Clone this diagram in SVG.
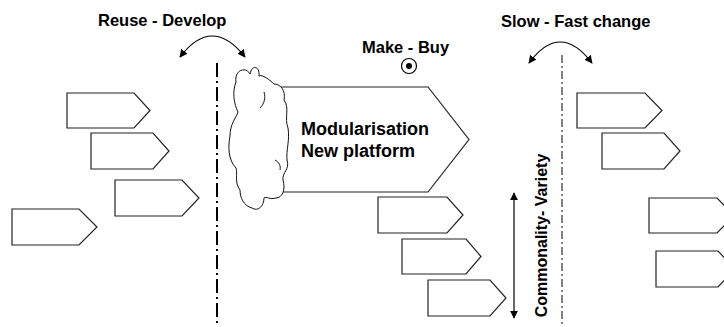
<svg xmlns="http://www.w3.org/2000/svg" width="724" height="327" viewBox="0 0 724 327">
<style>
.lbl{font-family:"Liberation Sans",Arial,sans-serif;font-weight:bold;fill:#000}
.pent{fill:#fff;stroke:#222;stroke-width:1.2}
.conn{fill:none;stroke:#000;stroke-width:1.2}
</style>
<defs>
<marker id="ah" viewBox="0 0 10 10" refX="9" refY="5" markerWidth="8" markerHeight="8" markerUnits="userSpaceOnUse" orient="auto-start-reverse">
<path d="M0,0 L10,5 L0,10 Z" fill="#000"/>
</marker>
</defs>
<rect width="724" height="327" fill="#fff"/>

<!-- dash-dot divider lines -->
<line x1="217" y1="63" x2="217" y2="327" stroke="#000" stroke-width="2" stroke-dasharray="14 4 2 4"/>
<line x1="562" y1="55" x2="562" y2="327" stroke="#000" stroke-width="1" stroke-dasharray="8 3 2 3"/>

<!-- left pentagons -->
<g id="left-1"><polygon class="pent" points="67,93 134,93 150,110.5 134,128 67,128"/></g>
<g id="left-2"><polygon class="pent" points="91,133 153,133 169,151 153,169 91,169"/></g>
<g id="left-3"><polygon class="pent" points="115,180 182,180 199,198 182,216 115,216"/></g>
<g id="left-4"><polygon class="pent" points="12,209 79,209 97,227 79,245 12,245"/></g>

<!-- big pentagon with cloud -->
<g id="modularisation">
<polygon class="pent" points="270,87 428,87 469,139.5 428,192 270,192"/>
<path fill="#fff" stroke="#111" stroke-width="1" d="M236,82 C234,70 246,66 250,74 C252,64 260,66 259,76 C262,74 270,80 274,84 C280,84 286,90 284,100 C290,108 284,118 288,128 C290,140 286,150 287,160 C290,170 282,172 283,180 C286,190 282,198 276,198 C270,200 266,196 264,198 C264,206 258,212 252,208 C244,206 240,198 240,190 C234,182 238,174 236,168 C228,160 228,146 230,136 C230,124 236,118 238,112 C234,104 232,92 236,82 Z"/>
<path fill="none" stroke="#111" stroke-width="1" d="M264,92 C266,98 264,104 260,108"/>
<path fill="none" stroke="#111" stroke-width="1" d="M275,160 C279,162 281,166 280,170"/>
<text class="lbl" font-size="18" x="301" y="135">Modularisation</text>
<text class="lbl" font-size="18" x="301" y="157">New platform</text>
</g>

<!-- middle pentagons -->
<g id="mid-1"><polygon class="pent" points="378,197 447,197 463,215 447,233 378,233"/></g>
<g id="mid-2"><polygon class="pent" points="402,239 466,239 481,256.5 466,274 402,274"/></g>
<g id="mid-3"><polygon class="pent" points="428,280 490,280 506,298 490,316 428,316"/></g>

<!-- right pentagons -->
<g id="right-1"><polygon class="pent" points="577,93 645,93 662,110.5 645,128 577,128"/></g>
<g id="right-2"><polygon class="pent" points="602,133 664,133 680,151 664,169 602,169"/></g>
<g id="right-3"><polygon class="pent" points="649,198 717,198 734,215.5 717,233 649,233"/></g>
<g id="right-4"><polygon class="pent" points="656,251 718,251 735,269 718,287 656,287"/></g>

<!-- make-buy marker -->
<g id="make-buy">
<text class="lbl" font-size="16.5" x="362" y="53">Make - Buy</text>
<circle cx="409" cy="66" r="7.5" fill="#fff" stroke="#000" stroke-width="1.2"/>
<circle cx="409" cy="66" r="3" fill="#000"/>
</g>

<!-- labels -->
<g id="reuse-develop"><text class="lbl" font-size="16.5" x="98" y="26">Reuse - Develop</text></g>
<g id="slow-fast"><text class="lbl" font-size="16.5" x="501" y="27">Slow - Fast change</text></g>
<g id="commonality"><text class="lbl" font-size="16" text-anchor="middle" transform="translate(547,235.5) rotate(-90)">Commonality- Variety</text></g>

<!-- connectors -->
<g id="connectors">
<path class="conn" d="M180,57 Q212,15 245,57" marker-start="url(#ah)" marker-end="url(#ah)"/>
<path class="conn" d="M529,63 Q560,21 592,63" marker-start="url(#ah)" marker-end="url(#ah)"/>
<line class="conn" x1="514" y1="193" x2="514" y2="318" marker-start="url(#ah)" marker-end="url(#ah)"/>
</g>
</svg>
